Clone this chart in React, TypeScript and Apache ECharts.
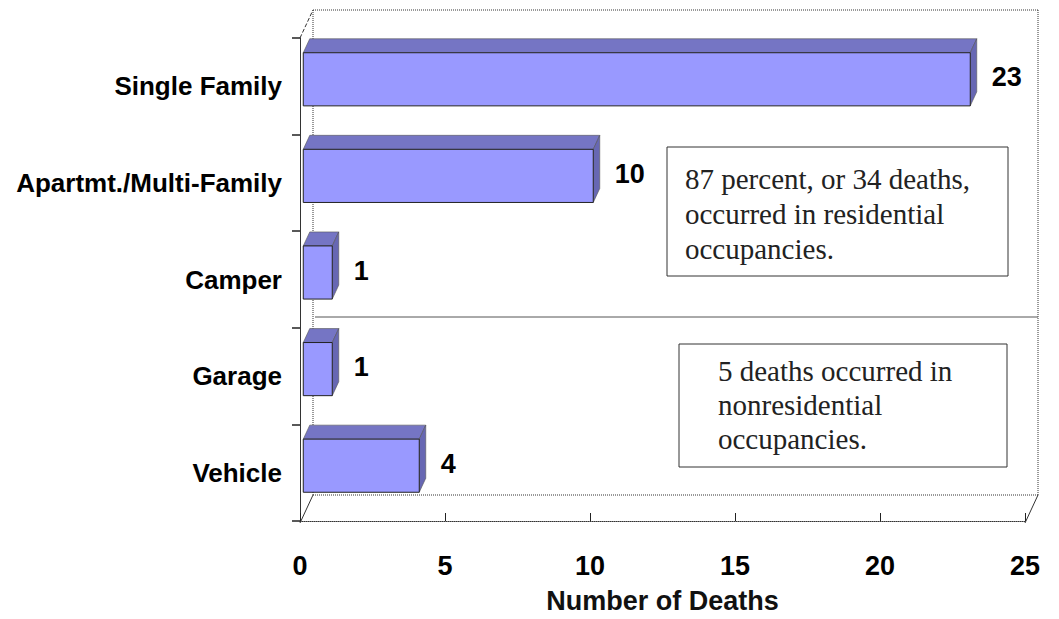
import React, { useEffect, useRef } from "react";
import * as echarts from "echarts";

const categories = ["Single Family", "Apartmt./Multi-Family", "Camper", "Garage", "Vehicle"];
const deaths = [23, 10, 1, 1, 4];
const xTicks = [0, 5, 10, 15, 20, 25];
const noteResidential = ["87 percent, or 34 deaths,", "occurred in residential", "occupancies."];
const noteNonResidential = ["5 deaths occurred in", "nonresidential", "occupancies."];

// layout constants
const W = 1059;
const H = 619;
const GL = 300; // grid left (front plane)
const GR = 1025; // front plane right
const GT = 38;
const GB = 523;
const DX = 13; // depth offset
const DY = -28;

const SANS = "'Liberation Sans', Arial, Helvetica, sans-serif";
const SERIF = "'Liberation Serif', 'Times New Roman', Times, serif";
const DOT = [1, 1];

export default function App() {
  const ref = useRef<HTMLDivElement>(null);

  useEffect(() => {
    if (!ref.current) return;
    const chart = echarts.init(ref.current, undefined, { renderer: "svg" });

    const frameLine = (x1: number, y1: number, x2: number, y2: number, dash: any, color = "#333") => ({
      type: "line",
      z: 0,
      silent: true,
      shape: { x1, y1, x2, y2 },
      style: { stroke: color, lineWidth: 1, lineDash: dash },
    });

    const bx = GL + DX;
    const by = GT + DY;
    const rx = GR + DX;
    const bb = GB + DY;

    const graphic: any[] = [
      frameLine(bx, by, rx, by, DOT),
      frameLine(bx, by, bx, bb, DOT),
      frameLine(rx, by, rx, bb, DOT),
      frameLine(bx, bb, rx, bb, DOT),
      frameLine(GL, GT, bx, by, [4, 2]),
      frameLine(GL, GB, bx, bb, null),
      frameLine(GR, GB, rx, bb, null),
      {
        type: "line",
        z: 1,
        silent: true,
        shape: { x1: bx + 2, y1: 317, x2: rx, y2: 317 },
        style: { stroke: "#555", lineWidth: 1 },
      },
      {
        type: "rect",
        z: 10,
        silent: true,
        shape: { x: 667, y: 147, width: 341, height: 129 },
        style: { fill: "#fff", stroke: "#333", lineWidth: 1 },
      },
      {
        type: "text",
        z: 11,
        silent: true,
        x: 685,
        y: 213.5,
        style: {
          text: noteResidential.join("\n"),
          fontSize: 29,
          fontFamily: SERIF,
          lineHeight: 35,
          fill: "#222",
          align: "left",
          verticalAlign: "middle",
        },
      },
      {
        type: "rect",
        z: 10,
        silent: true,
        shape: { x: 679, y: 344, width: 328, height: 123 },
        style: { fill: "#fff", stroke: "#333", lineWidth: 1 },
      },
      {
        type: "text",
        z: 11,
        silent: true,
        x: 718,
        y: 404.5,
        style: {
          text: noteNonResidential.join("\n"),
          fontSize: 29,
          fontFamily: SERIF,
          lineHeight: 34,
          fill: "#222",
          align: "left",
          verticalAlign: "middle",
        },
      },
    ];

    const option: any = {
      animation: false,
      backgroundColor: "#fff",
      grid: { left: GL, right: W - GR, top: GT, bottom: H - GB, containLabel: false },
      xAxis: {
        type: "value",
        min: xTicks[0],
        max: xTicks[xTicks.length - 1],
        interval: 5,
        name: "Number of Deaths",
        nameLocation: "middle",
        nameGap: 66,
        nameTextStyle: { fontSize: 27, fontWeight: "bold", fontFamily: SANS, color: "#111" },
        axisLine: { show: true, lineStyle: { color: "#333", width: 1, type: DOT } },
        axisTick: { show: true, inside: true, length: 8, lineStyle: { color: "#222", width: 1 } },
        axisLabel: { margin: 31, fontSize: 27, fontWeight: "bold", fontFamily: SANS, color: "#000" },
        splitLine: { show: false },
      },
      yAxis: {
        type: "category",
        inverse: true,
        data: categories,
        axisLine: { show: true, lineStyle: { color: "#333", width: 1 } },
        axisTick: { show: true, length: 8, interval: 0, lineStyle: { color: "#222", width: 1.5 } },
        axisLabel: { margin: 18, fontSize: 26, fontWeight: "bold", fontFamily: SANS, color: "#000", interval: 0 },
        splitLine: { show: false },
      },
      graphic,
      series: [
        {
          type: "custom",
          clip: false,
          z: 5,
          data: deaths.map((v, i) => [v, i]),
          encode: { x: 0, y: 1 },
          renderItem: (params: any, api: any) => {
            const v = api.value(0);
            const ci = api.value(1);
            const s = api.coord([0, ci]);
            const e = api.coord([v, ci]);
            const band = api.size([0, 1])[1];
            const h = band * 0.55;
            const qx = DX * 0.25;
            const qy = DY * 0.25;
            const ddx = DX * 0.5;
            const ddy = DY * 0.5;
            const x0 = s[0] + qx;
            const x1 = e[0] + qx;
            const cy = s[1] + qy;
            const top = cy - h / 2;
            const bot = cy + h / 2;
            return {
              type: "group",
              children: [
                {
                  type: "polygon",
                  shape: { points: [[x0, top], [x0 + ddx, top + ddy], [x1 + ddx, top + ddy], [x1, top]] },
                  style: { fill: "#7575C4", stroke: "#555", lineWidth: 0.6 },
                },
                {
                  type: "polygon",
                  shape: { points: [[x1, top], [x1 + ddx, top + ddy], [x1 + ddx, bot + ddy], [x1, bot]] },
                  style: { fill: "#6767B3", stroke: "#555", lineWidth: 0.6 },
                },
                {
                  type: "rect",
                  shape: { x: x0, y: top, width: x1 - x0, height: h },
                  style: { fill: "#9999FF", stroke: "#222", lineWidth: 1 },
                },
                {
                  type: "text",
                  x: x1 + ddx + 15,
                  y: cy - 2,
                  style: {
                    text: String(v),
                    fontSize: 27,
                    fontWeight: "bold",
                    fontFamily: SANS,
                    fill: "#000",
                    align: "left",
                    verticalAlign: "middle",
                  },
                },
              ],
            };
          },
        },
      ],
    };

    chart.setOption(option);
    return () => chart.dispose();
  }, []);

  return (
    <div
      ref={ref}
      style={{ position: "fixed", left: 0, top: 0, width: W, height: H, background: "#fff" }}
    />
  );
}
